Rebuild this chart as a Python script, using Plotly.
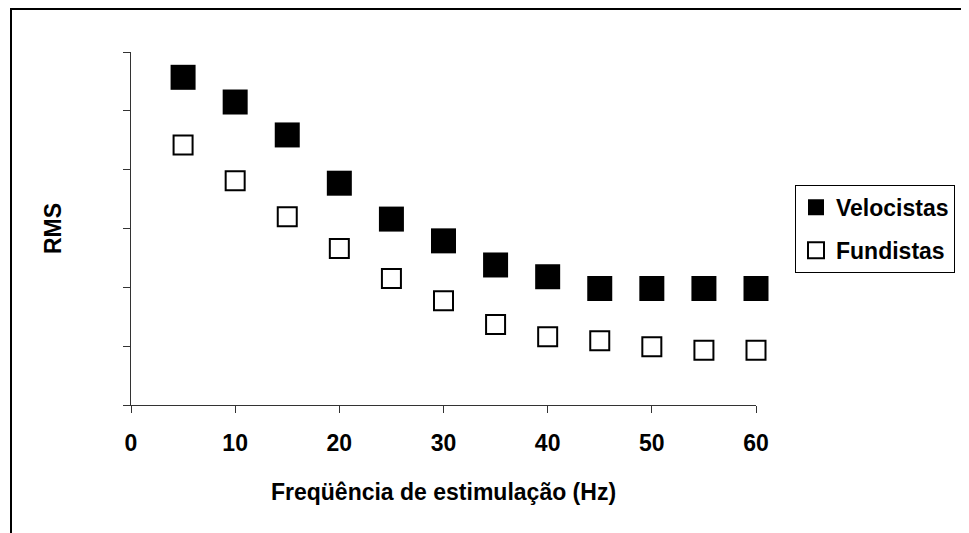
import plotly.graph_objects as go

freq_hz = [5, 10, 15, 20, 25, 30, 35, 40, 45, 50, 55, 60]
velocistas = [5.57, 5.15, 4.59, 3.77, 3.16, 2.79, 2.38, 2.18, 1.98, 1.98, 1.98, 1.98]
fundistas = [4.42, 3.81, 3.20, 2.66, 2.15, 1.77, 1.37, 1.16, 1.09, 0.99, 0.93, 0.93]
x_ticks = [0, 10, 20, 30, 40, 50, 60]
y_ticks = [0, 1, 2, 3, 4, 5, 6]

FONT = "Liberation Sans, Arial, sans-serif"
FS = 23

fig = go.Figure()
fig.add_trace(go.Scatter(
    x=freq_hz, y=velocistas, mode="markers", name="Velocistas",
    legendgroup="v", cliponaxis=False,
    marker=dict(symbol="square", size=25, color="black", line=dict(width=0)),
))
fig.add_trace(go.Scatter(
    x=freq_hz, y=fundistas, mode="markers", name="Fundistas",
    legendgroup="f", cliponaxis=False,
    marker=dict(symbol="square", size=19, color="white", line=dict(color="black", width=2)),
))

# page offset of the rendered figure (body margin)
OX, OY = 7, 8
W, H = 969, 533
L, R, T, B = 130 - OX, 755 - OX, 52 - OY, 405.5 - OY
pw, ph = R - L, B - T

def px_x(p):
    return (p - OX - L) / pw

def px_y(p):
    return (B - (p - OY)) / ph

fig.update_layout(
    width=W, height=H,
    margin=dict(l=L, r=W - R, t=T, b=H - B, pad=0),
    paper_bgcolor="white", plot_bgcolor="white",
    font=dict(family=FONT, color="black", size=FS, weight="bold"),
    showlegend=True,
    legend=dict(
        x=px_x(794), y=px_y(185), xanchor="left", yanchor="top",
        bordercolor="black", borderwidth=1, bgcolor="white",
        font=dict(family=FONT, size=FS, color="black", weight="bold"),
        tracegroupgap=10, itemsizing="trace",
    ),
    xaxis=dict(
        range=[0, 60], tickvals=x_ticks, ticks="outside", ticklen=7,
        tickcolor="#333", showline=True, linecolor="#333", linewidth=1,
        showgrid=False, zeroline=False, ticklabelstandoff=10,
        tickfont=dict(family=FONT, size=FS, color="black", weight="bold"),
        title=dict(text="Freqüência de estimulação (Hz)", standoff=29,
                   font=dict(family=FONT, size=FS, color="black", weight="bold")),
    ),
    yaxis=dict(
        range=[0, 6], tickvals=y_ticks, ticks="outside", ticklen=7,
        tickcolor="#333", showline=True, linecolor="#333", linewidth=1,
        showgrid=False, zeroline=False, showticklabels=False,
        title=dict(text="RMS", standoff=54,
                   font=dict(family=FONT, size=FS, color="black", weight="bold")),
    ),
    shapes=[dict(
        type="rect", xref="paper", yref="paper",
        x0=px_x(10), x1=px_x(1000), y0=px_y(560), y1=px_y(9),
        line=dict(color="black", width=2), fillcolor="rgba(0,0,0,0)", layer="below",
    )],
)

fig.write_html("out.html")
